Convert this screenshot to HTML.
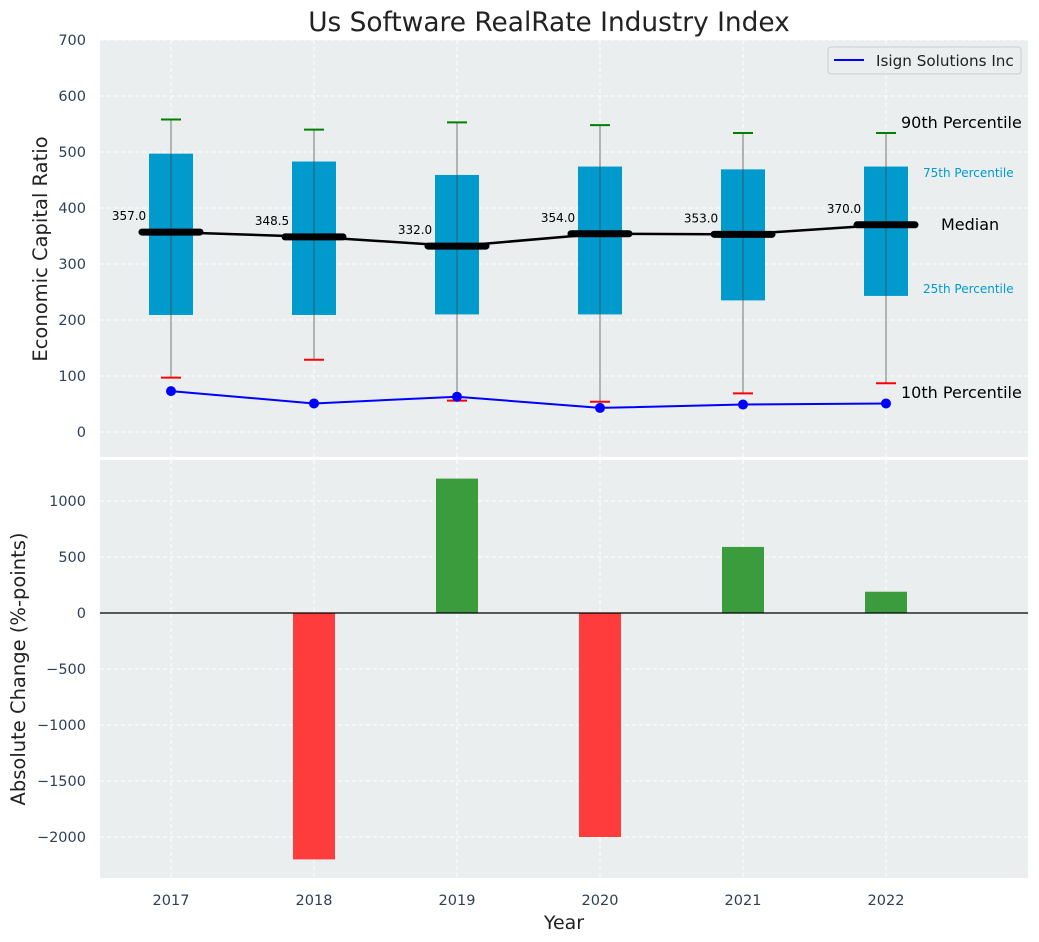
<!DOCTYPE html>
<html><head><meta charset="utf-8"><style>
html,body{margin:0;padding:0;background:#fff}
svg{display:block;font-family:"DejaVu Sans","Liberation Sans",sans-serif}
</style></head><body>
<svg id="chart" width="1039" height="942" viewBox="0 0 1039 942"></svg>
<script>
const years=[2017,2018,2019,2020,2021,2022];
const p10=[97,129,56,54,69,87];
const p25=[209,209,210,210,235,243];
const medians=[357.0,348.5,332.0,354.0,353.0,370.0];
const p75=[497,483,459,474,469,474];
const p90=[558,540,553,548,534,534];
const company=[73,51,63,43,49,51];
const changes=[0,-2200,1200,-2000,590,190];
const yTicksTop=[0,100,200,300,400,500,600,700];
const yTicksBot=[-2000,-1500,-1000,-500,0,500,1000];

const NS="http://www.w3.org/2000/svg";
const svg=document.getElementById('chart');
function el(tag,attrs,parent){const e=document.createElementNS(NS,tag);for(const k in attrs)e.setAttribute(k,attrs[k]);(parent||svg).appendChild(e);return e;}
const L=100,R=1028;
const x=y=>171+(y-2017)*143;
const yT=v=>432-v*0.56;
const yB=v=>613-v*0.112;
const tickCol="#2e4057";

let g=el('g',{});

let r=el('rect',{x:L,y:40,width:R-L,height:417,fill:'#eaeeef'},g);

years.forEach(yr=>{el('line',{x1:x(yr),x2:x(yr),y1:40,y2:457,stroke:'#fff','stroke-dasharray':'4 3','stroke-width':1},g);});
yTicksTop.forEach(v=>{
 el('line',{x1:L,x2:R,y1:yT(v),y2:yT(v),stroke:'#fff','stroke-dasharray':'4 3','stroke-width':1},g);
 const t=el('text',{x:86,y:yT(v)+5,'text-anchor':'end','font-size':14.5,fill:tickCol},g);t.textContent=v;
 
});
years.forEach((yr,i)=>{
 const cx=x(yr);
 el('line',{x1:cx,x2:cx,y1:yT(p90[i]),y2:yT(p10[i]),stroke:'#777','stroke-width':1},g);
 const b=el('rect',{x:cx-22,y:yT(p75[i]),width:44,height:yT(p25[i])-yT(p75[i]),fill:'#009acd'},g);
 
 el('line',{x1:cx,x2:cx,y1:yT(p75[i]),y2:yT(p25[i]),stroke:'#2f5a70','stroke-width':1},g);
 el('line',{x1:cx-10,x2:cx+10,y1:yT(p90[i]),y2:yT(p90[i]),stroke:'green','stroke-width':2},g);
 el('line',{x1:cx-10,x2:cx+10,y1:yT(p10[i]),y2:yT(p10[i]),stroke:'red','stroke-width':2},g);
});
let mp=years.map((yr,i)=>x(yr)+','+yT(medians[i])).join(' ');
let ml=el('polyline',{points:mp,fill:'none',stroke:'#000','stroke-width':2.5},g);

years.forEach((yr,i)=>{
 const cx=x(yr);
 const m=el('line',{x1:cx-29,x2:cx+29,y1:yT(medians[i]),y2:yT(medians[i]),stroke:'#000','stroke-width':7,'stroke-linecap':'round'},g);
 
 const t=el('text',{x:cx-42,y:yT(medians[i])-12,'text-anchor':'middle','font-size':12,fill:'#000'},g);t.textContent=medians[i].toFixed(1);
 
});
let cp=years.map((yr,i)=>x(yr)+','+yT(company[i])).join(' ');
let cl=el('polyline',{points:cp,fill:'none',stroke:'#0000ff','stroke-width':2},g);

years.forEach((yr,i)=>{const c=el('circle',{cx:x(yr),cy:yT(company[i]),r:5,fill:'#0000ff'},g);
 });
[[901,128,'90th Percentile',16,'#000'],[923,177,'75th Percentile',12,'#009acd'],[941,230,'Median',16,'#000'],[923,293,'25th Percentile',12,'#009acd'],[901,398,'10th Percentile',16,'#000']].forEach(a=>{
 const t=el('text',{x:a[0],y:a[1],'font-size':a[3],fill:a[4]},g);t.textContent=a[2];
 
});
let lg=el('g',{});
el('rect',{x:828,y:47,width:193,height:27,rx:3,fill:'#eaeeef',stroke:'#ccc'},lg);
el('line',{x1:834,x2:864,y1:60,y2:60,stroke:'#0000ff','stroke-width':2},lg);
let lt=el('text',{x:876,y:66,'font-size':15.2,fill:'#222'},lg);lt.textContent='Isign Solutions Inc';
let tt=el('text',{x:549,y:31,'text-anchor':'middle','font-size':26.4,fill:'#222'});tt.textContent='Us Software RealRate Industry Index';

let yl=el('text',{x:47,y:249,'text-anchor':'middle','font-size':19.5,fill:'#222',transform:'rotate(-90 47 249)'});yl.textContent='Economic Capital Ratio';


let g2=el('g',{});
let r2=el('rect',{x:L,y:460,width:R-L,height:418,fill:'#eaeeef'},g2);

years.forEach(yr=>{el('line',{x1:x(yr),x2:x(yr),y1:460,y2:878,stroke:'#fff','stroke-dasharray':'4 3','stroke-width':1},g2);
 const t=el('text',{x:x(yr),y:905,'text-anchor':'middle','font-size':14.5,fill:tickCol},g2);t.textContent=yr;
 });
yTicksBot.forEach(v=>{
 el('line',{x1:L,x2:R,y1:yB(v),y2:yB(v),stroke:'#fff','stroke-dasharray':'4 3','stroke-width':1},g2);
 const t=el('text',{x:86,y:yB(v)+5,'text-anchor':'end','font-size':14.5,fill:tickCol},g2);t.textContent=(v<0?'\u2212'+(-v):v);
 
});
years.forEach((yr,i)=>{
 const v=changes[i];if(v===0)return;
 const b=el('rect',{x:x(yr)-21,y:Math.min(yB(v),yB(0)),width:42,height:Math.abs(yB(v)-yB(0)),fill:v>0?'#3a9c3c':'#ff3c3c'},g2);
 
});
el('line',{x1:L,x2:R,y1:yB(0),y2:yB(0),stroke:'#000','stroke-width':1.2},g2);
let xl=el('text',{x:564,y:929,'text-anchor':'middle','font-size':19,fill:'#222'});xl.textContent='Year';

let yl2=el('text',{x:25,y:669,'text-anchor':'middle','font-size':19.5,fill:'#222',transform:'rotate(-90 25 669)'});yl2.textContent='Absolute Change (%-points)';

</script>
</body></html>
